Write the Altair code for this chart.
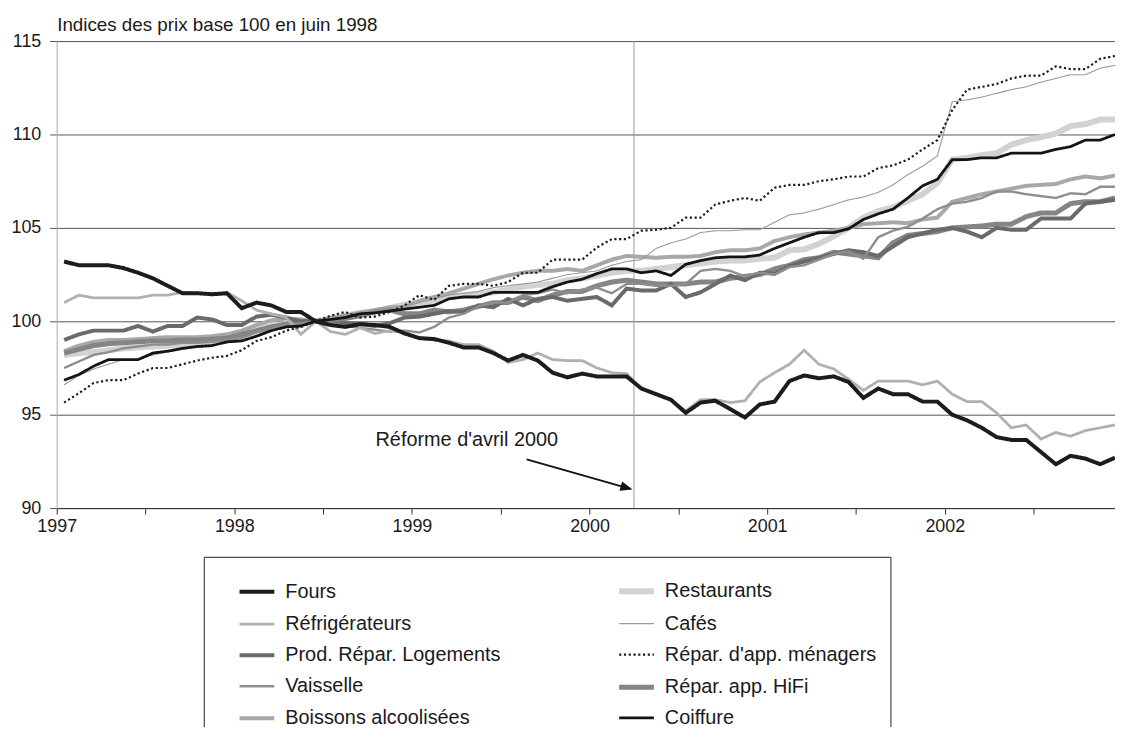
import altair as alt
import pandas as pd

# ---------------- data ----------------
annees = [1997, 1998, 1999, 2000, 2001, 2002]

series = ["Fours", "Réfrigérateurs", "Prod. Répar. Logements", "Vaisselle", "Boissons alcoolisées",
          "Restaurants", "Cafés", "Répar. d'app. ménagers", "Répar. app. HiFi", "Coiffure"]

fours = [103.2, 103.0, 103.0, 103.0, 102.85, 102.6, 102.3, 101.9, 101.5, 101.5, 101.45, 101.5,
         100.7, 101.0, 100.85, 100.5, 100.5, 100.0, 99.8, 99.7, 99.85, 99.8, 99.7, 99.35,
         99.1, 99.05, 98.85, 98.6, 98.6, 98.3, 97.9, 98.2, 97.9, 97.25, 97.0, 97.2,
         97.05, 97.05, 97.05, 96.4, 96.1, 95.8, 95.1, 95.65, 95.75, 95.3, 94.85, 95.55,
         95.7, 96.8, 97.1, 96.95, 97.05, 96.75, 95.9, 96.4, 96.1, 96.1, 95.7, 95.7,
         95.0, 94.7, 94.3, 93.8, 93.65, 93.65, 93.0, 92.35, 92.8, 92.65, 92.35, 92.7]

refrigerateurs = [101.0, 101.4, 101.25, 101.25, 101.25, 101.25, 101.4, 101.4, 101.55, 101.55, 101.4, 101.55,
                  101.1, 100.6, 100.4, 100.2, 99.3, 100.0, 99.45, 99.3, 99.65, 99.35, 99.5, 99.4,
                  99.1, 99.0, 98.95, 98.75, 98.75, 98.4, 97.8, 97.95, 98.3, 97.95, 97.9, 97.9,
                  97.5, 97.25, 97.2, 96.4, 96.1, 95.8, 95.2, 95.8, 95.8, 95.65, 95.75, 96.75,
                  97.25, 97.7, 98.45, 97.7, 97.45, 96.9, 96.3, 96.8, 96.8, 96.8, 96.6, 96.8,
                  96.1, 95.7, 95.7, 95.1, 94.3, 94.45, 93.7, 94.05, 93.85, 94.15, 94.3, 94.45]

prod_repar = [99.0, 99.3, 99.5, 99.5, 99.5, 99.75, 99.45, 99.75, 99.75, 100.2, 100.1, 99.8,
              99.8, 100.25, 100.35, 100.2, 100.0, 100.0, 99.85, 99.9, 99.85, 99.75, 99.9, 100.2,
              100.25, 100.4, 100.55, 100.5, 100.85, 100.75, 101.2, 100.85, 101.2, 101.3, 101.1, 101.2,
              101.3, 100.85, 101.75, 101.65, 101.65, 102.0, 101.3, 101.55, 102.0, 102.45, 102.2, 102.6,
              102.55, 102.95, 103.2, 103.4, 103.6, 103.8, 103.7, 103.5, 104.0, 104.5, 104.7, 104.9,
              105.0, 104.8, 104.5, 105.0, 104.9, 104.9, 105.5, 105.5, 105.5, 106.3, 106.4, 106.5]

vaisselle = [97.5, 97.85, 98.2, 98.35, 98.55, 98.65, 98.75, 98.75, 98.85, 98.85, 98.9, 99.0,
             99.1, 99.4, 99.6, 99.8, 99.9, 100.0, 99.9, 99.75, 99.65, 99.55, 99.45, 99.5,
             99.4, 99.7, 100.2, 100.4, 100.8, 101.0, 101.0, 101.4, 101.5, 101.7, 101.5, 101.7,
             101.8, 101.5, 102.0, 102.0, 101.9, 101.9, 102.0, 102.7, 102.8, 102.7, 102.4, 102.6,
             102.5, 102.9, 103.0, 103.3, 103.6, 103.75, 103.35, 104.5, 104.85, 105.05, 105.5, 106.0,
             106.3, 106.4, 106.6, 106.95, 106.95, 106.8, 106.7, 106.6, 106.85, 106.8, 107.2, 107.2]

boissons = [98.4, 98.7, 98.9, 99.0, 99.0, 99.05, 99.1, 99.15, 99.15, 99.15, 99.2, 99.3,
            99.5, 99.8, 100.05, 100.15, 100.1, 100.0, 100.1, 100.3, 100.45, 100.6, 100.75, 100.75,
            101.1, 101.3, 101.5, 101.75, 102.0, 102.25, 102.45, 102.6, 102.7, 102.7, 102.8, 102.7,
            103.0, 103.3, 103.5, 103.45, 103.4, 103.45, 103.45, 103.5, 103.7, 103.8, 103.8, 103.9,
            104.3, 104.5, 104.65, 104.75, 104.85, 105.0, 105.2, 105.25, 105.3, 105.25, 105.45, 105.55,
            106.4, 106.6, 106.8, 106.95, 107.1, 107.25, 107.3, 107.35, 107.6, 107.75, 107.65, 107.8]

restaurants = [98.2, 98.3, 98.35, 98.45, 98.55, 98.6, 98.65, 98.7, 98.75, 98.8, 98.9, 99.05,
               99.3, 99.55, 99.75, 99.85, 99.95, 100.0, 100.15, 100.3, 100.45, 100.55, 100.7, 100.9,
               101.0, 101.1, 101.3, 101.4, 101.45, 101.55, 101.7, 101.85, 101.95, 102.0, 102.2, 102.3,
               102.45, 102.6, 102.7, 102.7, 102.8, 102.9, 103.0, 103.1, 103.2, 103.25, 103.25, 103.35,
               103.4, 103.8, 103.85, 104.15, 104.55, 105.0, 105.55, 105.9, 106.1, 106.45, 106.8, 107.4,
               108.65, 108.75, 108.9, 109.0, 109.45, 109.7, 109.85, 110.05, 110.45, 110.55, 110.8, 110.8]

cafes = [96.6, 97.1, 97.45, 97.7, 97.95, 97.95, 98.2, 98.35, 98.5, 98.6, 98.7, 98.85,
         98.95, 99.25, 99.55, 99.7, 99.8, 100.0, 100.25, 100.35, 100.5, 100.55, 100.7, 100.85,
         101.0, 101.2, 101.4, 101.5, 101.6, 101.8, 101.9, 102.0, 102.1, 102.3, 102.5, 102.6,
         102.7, 103.0, 103.2, 103.3, 103.9, 104.2, 104.4, 104.75, 104.85, 104.85, 104.9, 104.9,
         105.3, 105.7, 105.8, 106.0, 106.25, 106.5, 106.65, 106.9, 107.3, 107.85, 108.3, 108.85,
         111.75, 111.85, 112.0, 112.2, 112.4, 112.55, 112.8, 113.0, 113.2, 113.2, 113.55, 113.7]

repar_menagers = [95.65, 96.15, 96.7, 96.85, 96.85, 97.2, 97.5, 97.5, 97.7, 97.9, 98.05, 98.15,
                  98.45, 98.95, 99.15, 99.5, 99.7, 100.0, 100.3, 100.5, 100.2, 100.25, 100.5, 100.85,
                  101.4, 101.15, 101.9, 102.0, 102.0, 101.9, 102.1, 102.6, 102.6, 103.3, 103.3, 103.3,
                  103.95, 104.4, 104.4, 104.85, 104.9, 105.0, 105.55, 105.55, 106.25, 106.45, 106.6, 106.45,
                  107.15, 107.3, 107.3, 107.5, 107.6, 107.75, 107.75, 108.2, 108.35, 108.65, 109.2, 109.7,
                  111.3, 112.4, 112.55, 112.7, 113.0, 113.15, 113.15, 113.65, 113.5, 113.5, 114.05, 114.2]

hifi = [98.3, 98.5, 98.7, 98.8, 98.85, 98.9, 98.95, 98.95, 99.0, 99.0, 99.05, 99.1,
        99.3, 99.5, 99.7, 99.85, 99.95, 100.0, 100.0, 100.15, 100.3, 100.5, 100.6, 100.4,
        100.4, 100.6, 100.5, 100.6, 100.8, 101.0, 101.0, 101.3, 101.1, 101.4, 101.6, 101.6,
        101.9, 102.1, 102.2, 102.1, 102.0, 102.0, 102.0, 102.1, 102.1, 102.3, 102.4, 102.5,
        102.8, 103.0, 103.3, 103.4, 103.7, 103.6, 103.5, 103.4, 104.2, 104.6, 104.7, 104.8,
        105.0, 105.05, 105.1, 105.2, 105.2, 105.6, 105.8, 105.8, 106.3, 106.4, 106.4, 106.6]

coiffure = [96.85, 97.15, 97.6, 97.95, 97.95, 97.95, 98.3, 98.4, 98.55, 98.65, 98.7, 98.9,
            98.95, 99.2, 99.5, 99.7, 99.75, 100.0, 100.1, 100.2, 100.4, 100.45, 100.55, 100.65,
            100.75, 100.85, 101.2, 101.3, 101.3, 101.55, 101.55, 101.55, 101.55, 101.85, 102.1, 102.25,
            102.55, 102.8, 102.8, 102.6, 102.7, 102.45, 103.05, 103.25, 103.4, 103.45, 103.45, 103.55,
            103.9, 104.2, 104.5, 104.75, 104.75, 104.95, 105.45, 105.75, 106.0, 106.6, 107.25, 107.6,
            108.65, 108.65, 108.75, 108.75, 109.0, 109.0, 109.0, 109.2, 109.35, 109.7, 109.7, 110.0]

valeurs = {
    "Fours": fours, "Réfrigérateurs": refrigerateurs, "Prod. Répar. Logements": prod_repar,
    "Vaisselle": vaisselle, "Boissons alcoolisées": boissons, "Restaurants": restaurants,
    "Cafés": cafes, "Répar. d'app. ménagers": repar_menagers, "Répar. app. HiFi": hifi,
    "Coiffure": coiffure,
}

# styles, in the order of `series`
couleurs = ["#1c1c1c", "#b0b0b0", "#6a6a6a", "#8e8e8e", "#a8a8a8",
            "#d2d2d2", "#9a9a9a", "#1c1c1c", "#858585", "#141414"]
epaisseurs = [4, 2.8, 4, 2.4, 4, 6, 1.1, 2.2, 5, 2.8]
tirets = [[1, 0], [1, 0], [1, 0], [1, 0], [1, 0], [1, 0], [1, 0], [2.2, 2.6], [1, 0], [1, 0]]

ordre_trace = ["Restaurants", "Boissons alcoolisées", "Répar. app. HiFi", "Prod. Répar. Logements",
               "Vaisselle", "Réfrigérateurs", "Cafés", "Coiffure", "Fours", "Répar. d'app. ménagers"]

rows = []
for s in ordre_trace:
    for i, v in enumerate(valeurs[s]):
        rows.append({"serie": s, "t": annees[0] + (i + 0.5) / 12, "v": v})
df = pd.DataFrame(rows)

reforme = 2000.25
annot_txt = pd.DataFrame([{"t": 1998.795, "v": 93.67, "txt": "Réforme d'avril 2000"}])
fleche = pd.DataFrame([{"t": 1999.646, "v": 92.61, "t2": 2000.205, "v2": 91.1}])
pointe = pd.DataFrame([{"t": 2000.242, "v": 91.0}])

FONT = "Liberation Sans"
x_dom = [annees[0], annees[0] + 71.5 / 12]
xs = alt.Scale(domain=x_dom, nice=False, zero=False)
ys = alt.Scale(domain=[90, 115], nice=False, zero=False)

tick_vals = [annees[0] + k * 0.5 for k in range(12)]

legend = alt.Legend(
    title=None, orient="none", legendX=148, legendY=519, columns=2,
    symbolType="stroke", symbolSize=1225, symbolOffset=19, labelOffset=8,
    labelFont=FONT, labelFontSize=20, labelColor="#1a1a1a", labelLimit=400,
    strokeColor="#222222", padding=14, rowPadding=1.75, columnPadding=97,
    fillColor="white",
)

lines = alt.Chart(df).mark_line(clip=True).encode(
    x=alt.X("t:Q", scale=xs,
            axis=alt.Axis(values=tick_vals, grid=False, title=None,
                          labelExpr="datum.value % 1 == 0 ? toString(datum.value) : ''",
                          labelFont=FONT, labelFontSize=18, labelColor="#1a1a1a",
                          labelPadding=4, tickSize=6, tickColor="#333", domainColor="#333",
                          labelFlush=False, labelOverlap=False)),
    y=alt.Y("v:Q", scale=ys,
            axis=alt.Axis(values=[90, 95, 100, 105, 110, 115], grid=True, gridColor="#555",
                          gridWidth=1, domainColor="#aaaaaa", tickSize=7, tickColor="#555",
                          labelFont=FONT, labelFontSize=18, labelColor="#1a1a1a", labelPadding=9,
                          title="Indices des prix base 100 en juin 1998", titleAngle=0,
                          titleAlign="left", titleX=0, titleY=-11, titleBaseline="alphabetic",
                          titleFont=FONT, titleFontSize=18.9, titleFontWeight="normal",
                          titleColor="#1a1a1a")),
    color=alt.Color("serie:N", scale=alt.Scale(type="ordinal", domain=series, range=couleurs),
                    legend=legend),
    strokeWidth=alt.StrokeWidth("serie:N",
                                scale=alt.Scale(type="ordinal", domain=series, range=epaisseurs),
                                legend=legend),
    strokeDash=alt.StrokeDash("serie:N",
                              scale=alt.Scale(type="ordinal", domain=series, range=tirets),
                              legend=legend),
    detail="serie:N",
)

regle = alt.Chart(pd.DataFrame([{"t": reforme}])).mark_rule(color="#9a9a9a", strokeWidth=1).encode(
    x=alt.X("t:Q", scale=xs)
)

texte = alt.Chart(annot_txt).mark_text(align="left", baseline="middle", font=FONT, fontSize=20,
                                       color="#1a1a1a").encode(
    x=alt.X("t:Q", scale=xs), y=alt.Y("v:Q", scale=ys), text="txt:N")

trait = alt.Chart(fleche).mark_rule(color="#111", strokeWidth=1.8).encode(
    x=alt.X("t:Q", scale=xs), y=alt.Y("v:Q", scale=ys), x2="t2:Q", y2="v2:Q")

tete = alt.Chart(pointe).mark_point(shape="M0,0L-2,-0.8L-2,0.8Z", filled=True, color="#111",
                                    size=150, angle=16, opacity=1).encode(
    x=alt.X("t:Q", scale=xs), y=alt.Y("v:Q", scale=ys))

chart = alt.layer(regle, lines, texte, trait, tete).properties(
    width=1065, height=470,
    autosize=alt.AutoSizeParams(type="none"),
    padding={"left": 49, "top": 31, "right": 0, "bottom": 218},
    background="white",
).configure_view(strokeWidth=0)

chart.save("out.html", embed_options={"renderer": "svg", "actions": False})
